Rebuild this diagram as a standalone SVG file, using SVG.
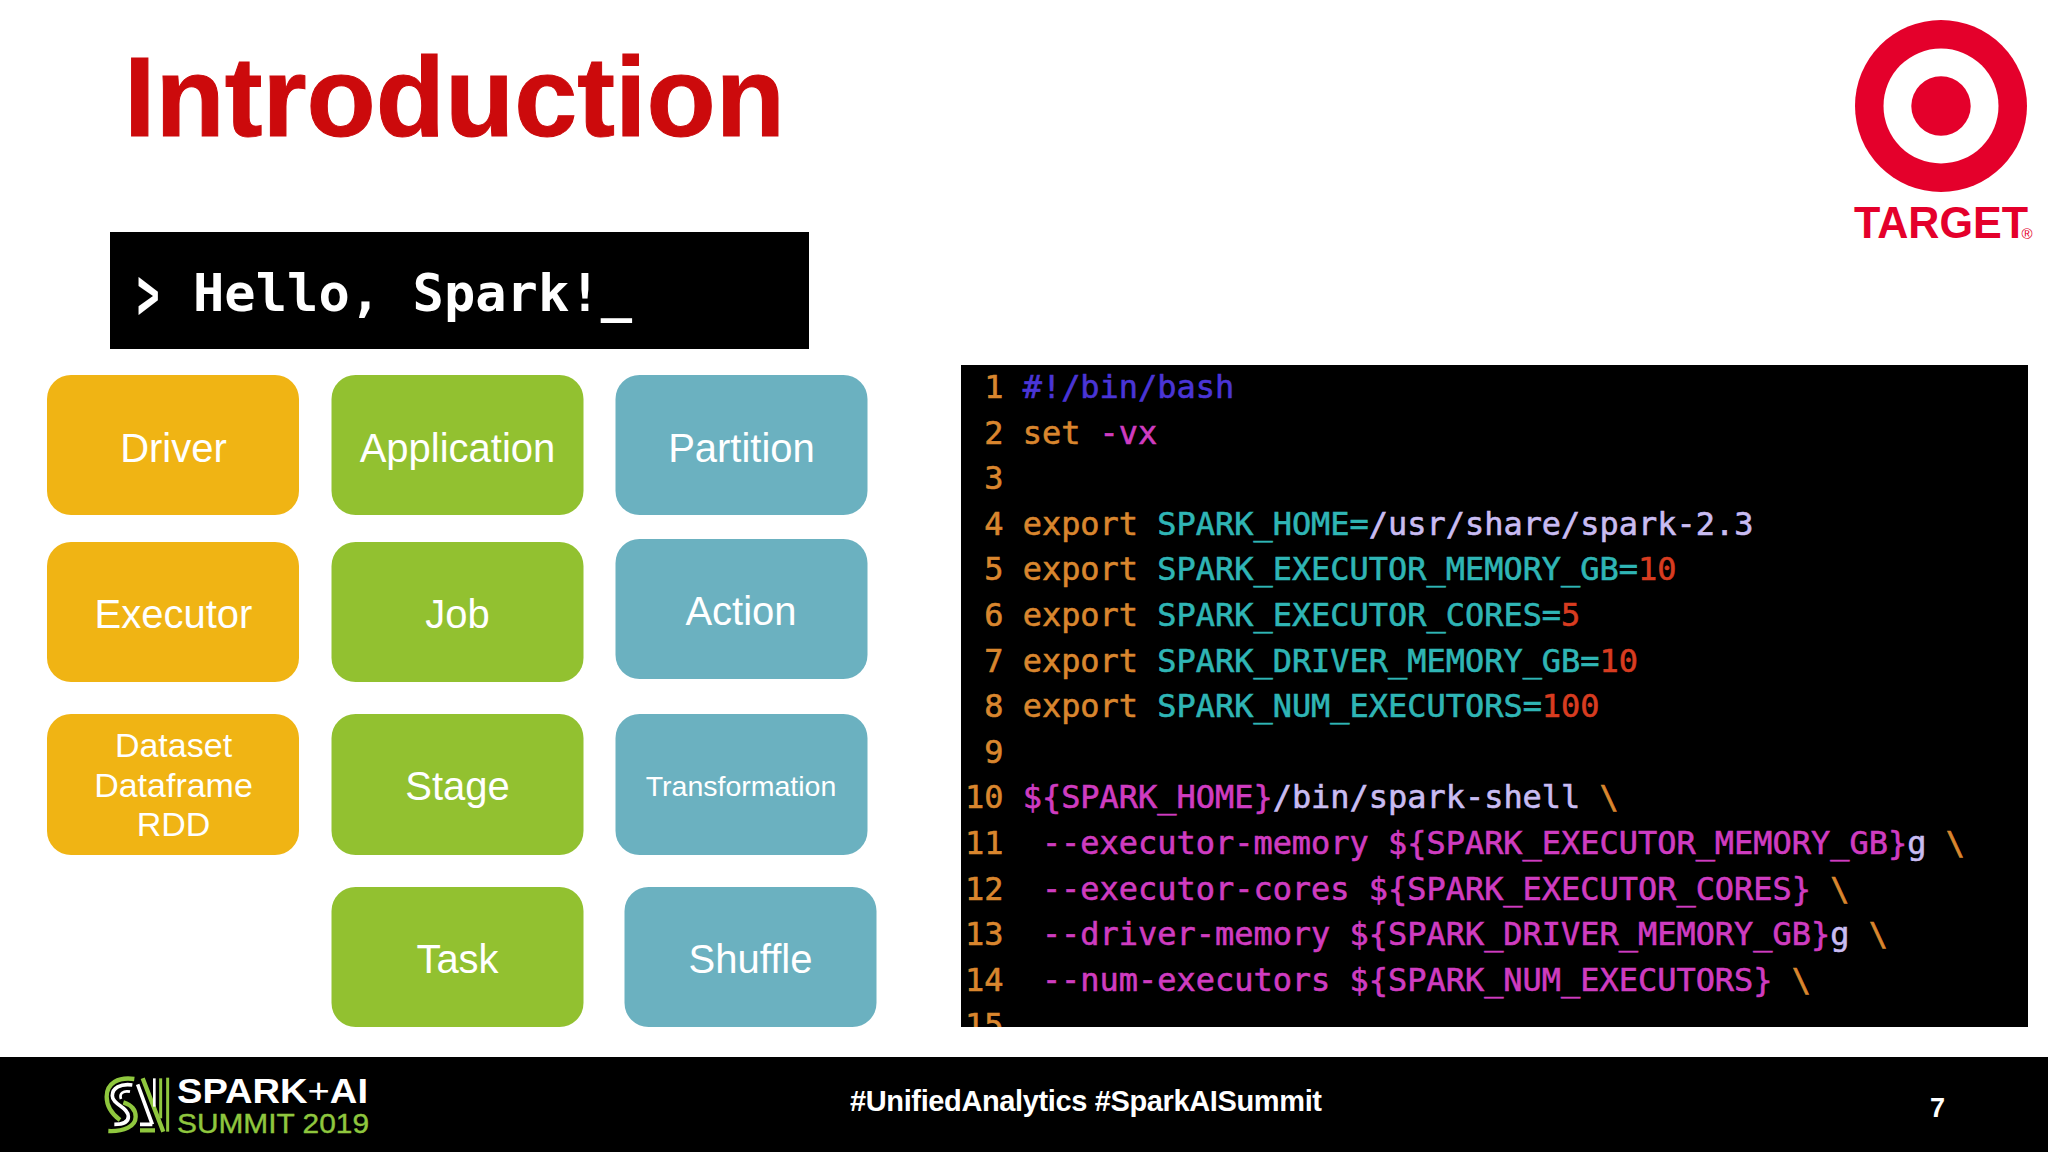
<svg xmlns="http://www.w3.org/2000/svg" width="2048" height="1152" viewBox="0 0 2048 1152">
<style>
.b{font-family:"Liberation Sans",Arial,sans-serif;fill:#fff;font-size:40px;text-anchor:middle}
.c{font-family:"DejaVu Sans Mono",monospace;font-size:31.95px;stroke-width:.6}
.y{fill:#f0b414}.g{fill:#92c130}.t{fill:#6bb1c0}
.k{fill:#d9862e;stroke:#d9862e}.h{fill:#4a35d6;stroke:#4a35d6}.m{fill:#cf3cc0;stroke:#cf3cc0}.s{fill:#2fb5b5;stroke:#2fb5b5}.p{fill:#c9bcf2;stroke:#c9bcf2}.r{fill:#d83c20;stroke:#d83c20}
.ls{fill:none;stroke:#8fc73e;stroke-width:13}.lw{fill:none;stroke:#fff;stroke-width:11}
</style>
<defs><clipPath id="cp"><rect x="961" y="365" width="1067" height="662"/></clipPath></defs>
<rect width="2048" height="1152" fill="#fff"/>
<text id="title" x="124" y="136" font-family="Liberation Sans,Arial,sans-serif" font-weight="700" font-size="113" fill="#cc0a0c" textLength="661" lengthAdjust="spacingAndGlyphs" stroke="#cc0a0c" stroke-width="1">Introduction</text>
<g id="target-logo" fill="#e4002b">
<circle cx="1941" cy="106" r="86"/><circle cx="1941" cy="106" r="57.500" fill="#fff"/><circle cx="1941" cy="106" r="29.700"/>
<text x="1854" y="238" font-family="Liberation Sans,Arial,sans-serif" font-weight="700" font-size="43.500" textLength="174" lengthAdjust="spacingAndGlyphs">TARGET</text>
<text x="2021.500" y="238.500" font-family="Liberation Sans,Arial,sans-serif" font-size="15">®</text>
</g>
<g id="hello"><rect x="110" y="232" width="699" height="117"/>
<text transform="translate(137 319) scale(.72 1.4)" font-family="DejaVu Sans Mono,monospace" font-weight="700" font-size="51.800" fill="#fff">&gt;</text>
<text x="193" y="310.700" font-family="DejaVu Sans Mono,monospace" font-weight="700" font-size="52" fill="#fff" textLength="439">Hello, Spark!_</text></g>
<g id="n-driver"><rect class="y" x="47" y="375" width="252" height="140" rx="24"/><text class="b" x="173.500" y="462">Driver</text></g>
<g id="n-executor"><rect class="y" x="47" y="542" width="252" height="140" rx="24"/><text class="b" x="173.500" y="628">Executor</text></g>
<g id="n-dataset"><rect class="y" x="47" y="714" width="252" height="141" rx="24"/><text class="b" style="font-size:34px" x="173.500" y="757">Dataset</text><text class="b" style="font-size:34px" x="173.500" y="796.500">Dataframe</text><text class="b" style="font-size:34px" x="173.500" y="836">RDD</text></g>
<g id="n-application"><rect class="g" x="331.500" y="375" width="252" height="140" rx="24"/><text class="b" x="457.500" y="462">Application</text></g>
<g id="n-job"><rect class="g" x="331.500" y="542" width="252" height="140" rx="24"/><text class="b" x="457.500" y="628">Job</text></g>
<g id="n-stage"><rect class="g" x="331.500" y="714" width="252" height="141" rx="24"/><text class="b" x="457.500" y="800">Stage</text></g>
<g id="n-task"><rect class="g" x="331.500" y="887" width="252" height="140" rx="24"/><text class="b" x="457.500" y="973">Task</text></g>
<g id="n-partition"><rect class="t" x="615.500" y="375" width="252" height="140" rx="24"/><text class="b" x="741.500" y="462">Partition</text></g>
<g id="n-action"><rect class="t" x="615.500" y="539" width="252" height="140" rx="24"/><text class="b" x="741" y="625">Action</text></g>
<g id="n-transformation"><rect class="t" x="615.500" y="714" width="252" height="141" rx="24"/><text class="b" style="font-size:28.500px" x="741" y="796">Transformation</text></g>
<g id="n-shuffle"><rect class="t" x="624.500" y="887" width="252" height="140" rx="24"/><text class="b" x="750.500" y="973">Shuffle</text></g>
<g id="connectors"/>
<g id="code"><rect x="961" y="365" width="1067" height="662"/>
<g clip-path="url(#cp)" class="c">
<text y="398"><tspan class="k" x="984.200">1</tspan><tspan class="h" x="1022.700">#!/bin/bash</tspan></text>
<text y="443.600"><tspan class="k" x="984.200">2</tspan><tspan class="k" x="1022.700">set </tspan><tspan class="m">-vx</tspan></text>
<text y="489.200"><tspan class="k" x="984.200">3</tspan></text>
<text y="534.800"><tspan class="k" x="984.200">4</tspan><tspan class="k" x="1022.700">export </tspan><tspan class="s">SPARK_HOME=</tspan><tspan class="p">/usr/share/spark-2.3</tspan></text>
<text y="580.400"><tspan class="k" x="984.200">5</tspan><tspan class="k" x="1022.700">export </tspan><tspan class="s">SPARK_EXECUTOR_MEMORY_GB=</tspan><tspan class="r">10</tspan></text>
<text y="626"><tspan class="k" x="984.200">6</tspan><tspan class="k" x="1022.700">export </tspan><tspan class="s">SPARK_EXECUTOR_CORES=</tspan><tspan class="r">5</tspan></text>
<text y="671.600"><tspan class="k" x="984.200">7</tspan><tspan class="k" x="1022.700">export </tspan><tspan class="s">SPARK_DRIVER_MEMORY_GB=</tspan><tspan class="r">10</tspan></text>
<text y="717.200"><tspan class="k" x="984.200">8</tspan><tspan class="k" x="1022.700">export </tspan><tspan class="s">SPARK_NUM_EXECUTORS=</tspan><tspan class="r">100</tspan></text>
<text y="762.800"><tspan class="k" x="984.200">9</tspan></text>
<text y="808.400"><tspan class="k" x="965">10</tspan><tspan class="m" x="1022.700">${SPARK_HOME}</tspan><tspan class="p">/bin/spark-shell </tspan><tspan class="k">\</tspan></text>
<text y="854"><tspan class="k" x="965">11</tspan><tspan class="m" x="1041.900">--executor-memory ${SPARK_EXECUTOR_MEMORY_GB}</tspan><tspan class="p">g </tspan><tspan class="k">\</tspan></text>
<text y="899.600"><tspan class="k" x="965">12</tspan><tspan class="m" x="1041.900">--executor-cores ${SPARK_EXECUTOR_CORES} </tspan><tspan class="k">\</tspan></text>
<text y="945.200"><tspan class="k" x="965">13</tspan><tspan class="m" x="1041.900">--driver-memory ${SPARK_DRIVER_MEMORY_GB}</tspan><tspan class="p">g </tspan><tspan class="k">\</tspan></text>
<text y="990.800"><tspan class="k" x="965">14</tspan><tspan class="m" x="1041.900">--num-executors ${SPARK_NUM_EXECUTORS} </tspan><tspan class="k">\</tspan></text>
<text y="1036.400"><tspan class="k" x="965">15</tspan></text>
</g></g>
<g id="footer"><rect y="1057" width="2048" height="95"/>
<g id="summit-logo">
<g transform="translate(95 1065) scale(.3333)">
<path class="ls" d="M118 42C70 35 35 55 35 95C35 130 55 150 75 165"/>
<path class="lw" d="M112 60C75 55 52 70 52 92C52 120 100 125 100 155C100 170 85 178 58 178"/>
<path class="lw" style="stroke-width:8" d="M105 80C85 76 72 85 78 102"/>
<path class="ls" d="M85 112C110 120 122 135 122 155C122 185 85 200 40 198"/>
<path class="lw" d="M128 58L172 178M135 178H172"/>
<path class="ls" d="M143 40L205 200M135 196H180"/>
<path class="lw" style="stroke-width:8" d="M178 40V125"/>
<path class="ls" style="stroke-width:9" d="M197 40V160"/>
<path class="ls" style="stroke-width:9" d="M218 38V200"/>
</g>
<text x="177" y="1103" font-family="Liberation Sans,Arial,sans-serif" font-weight="700" font-size="35" fill="#fff" textLength="191" lengthAdjust="spacingAndGlyphs">SPARK<tspan font-weight="400">+</tspan>AI</text>
<text x="177" y="1133" font-family="Liberation Sans,Arial,sans-serif" font-size="28" fill="#8fc73e" stroke="#8fc73e" stroke-width=".4" textLength="192" lengthAdjust="spacingAndGlyphs">SUMMIT 2019</text>
</g>
<text x="850" y="1111" font-family="Liberation Sans,Arial,sans-serif" font-weight="700" font-size="29" fill="#fff" textLength="472">#UnifiedAnalytics #SparkAISummit</text>
<text x="1930" y="1117" font-family="Liberation Sans,Arial,sans-serif" font-weight="700" font-size="27" fill="#fff">7</text>
</g>
</svg>
